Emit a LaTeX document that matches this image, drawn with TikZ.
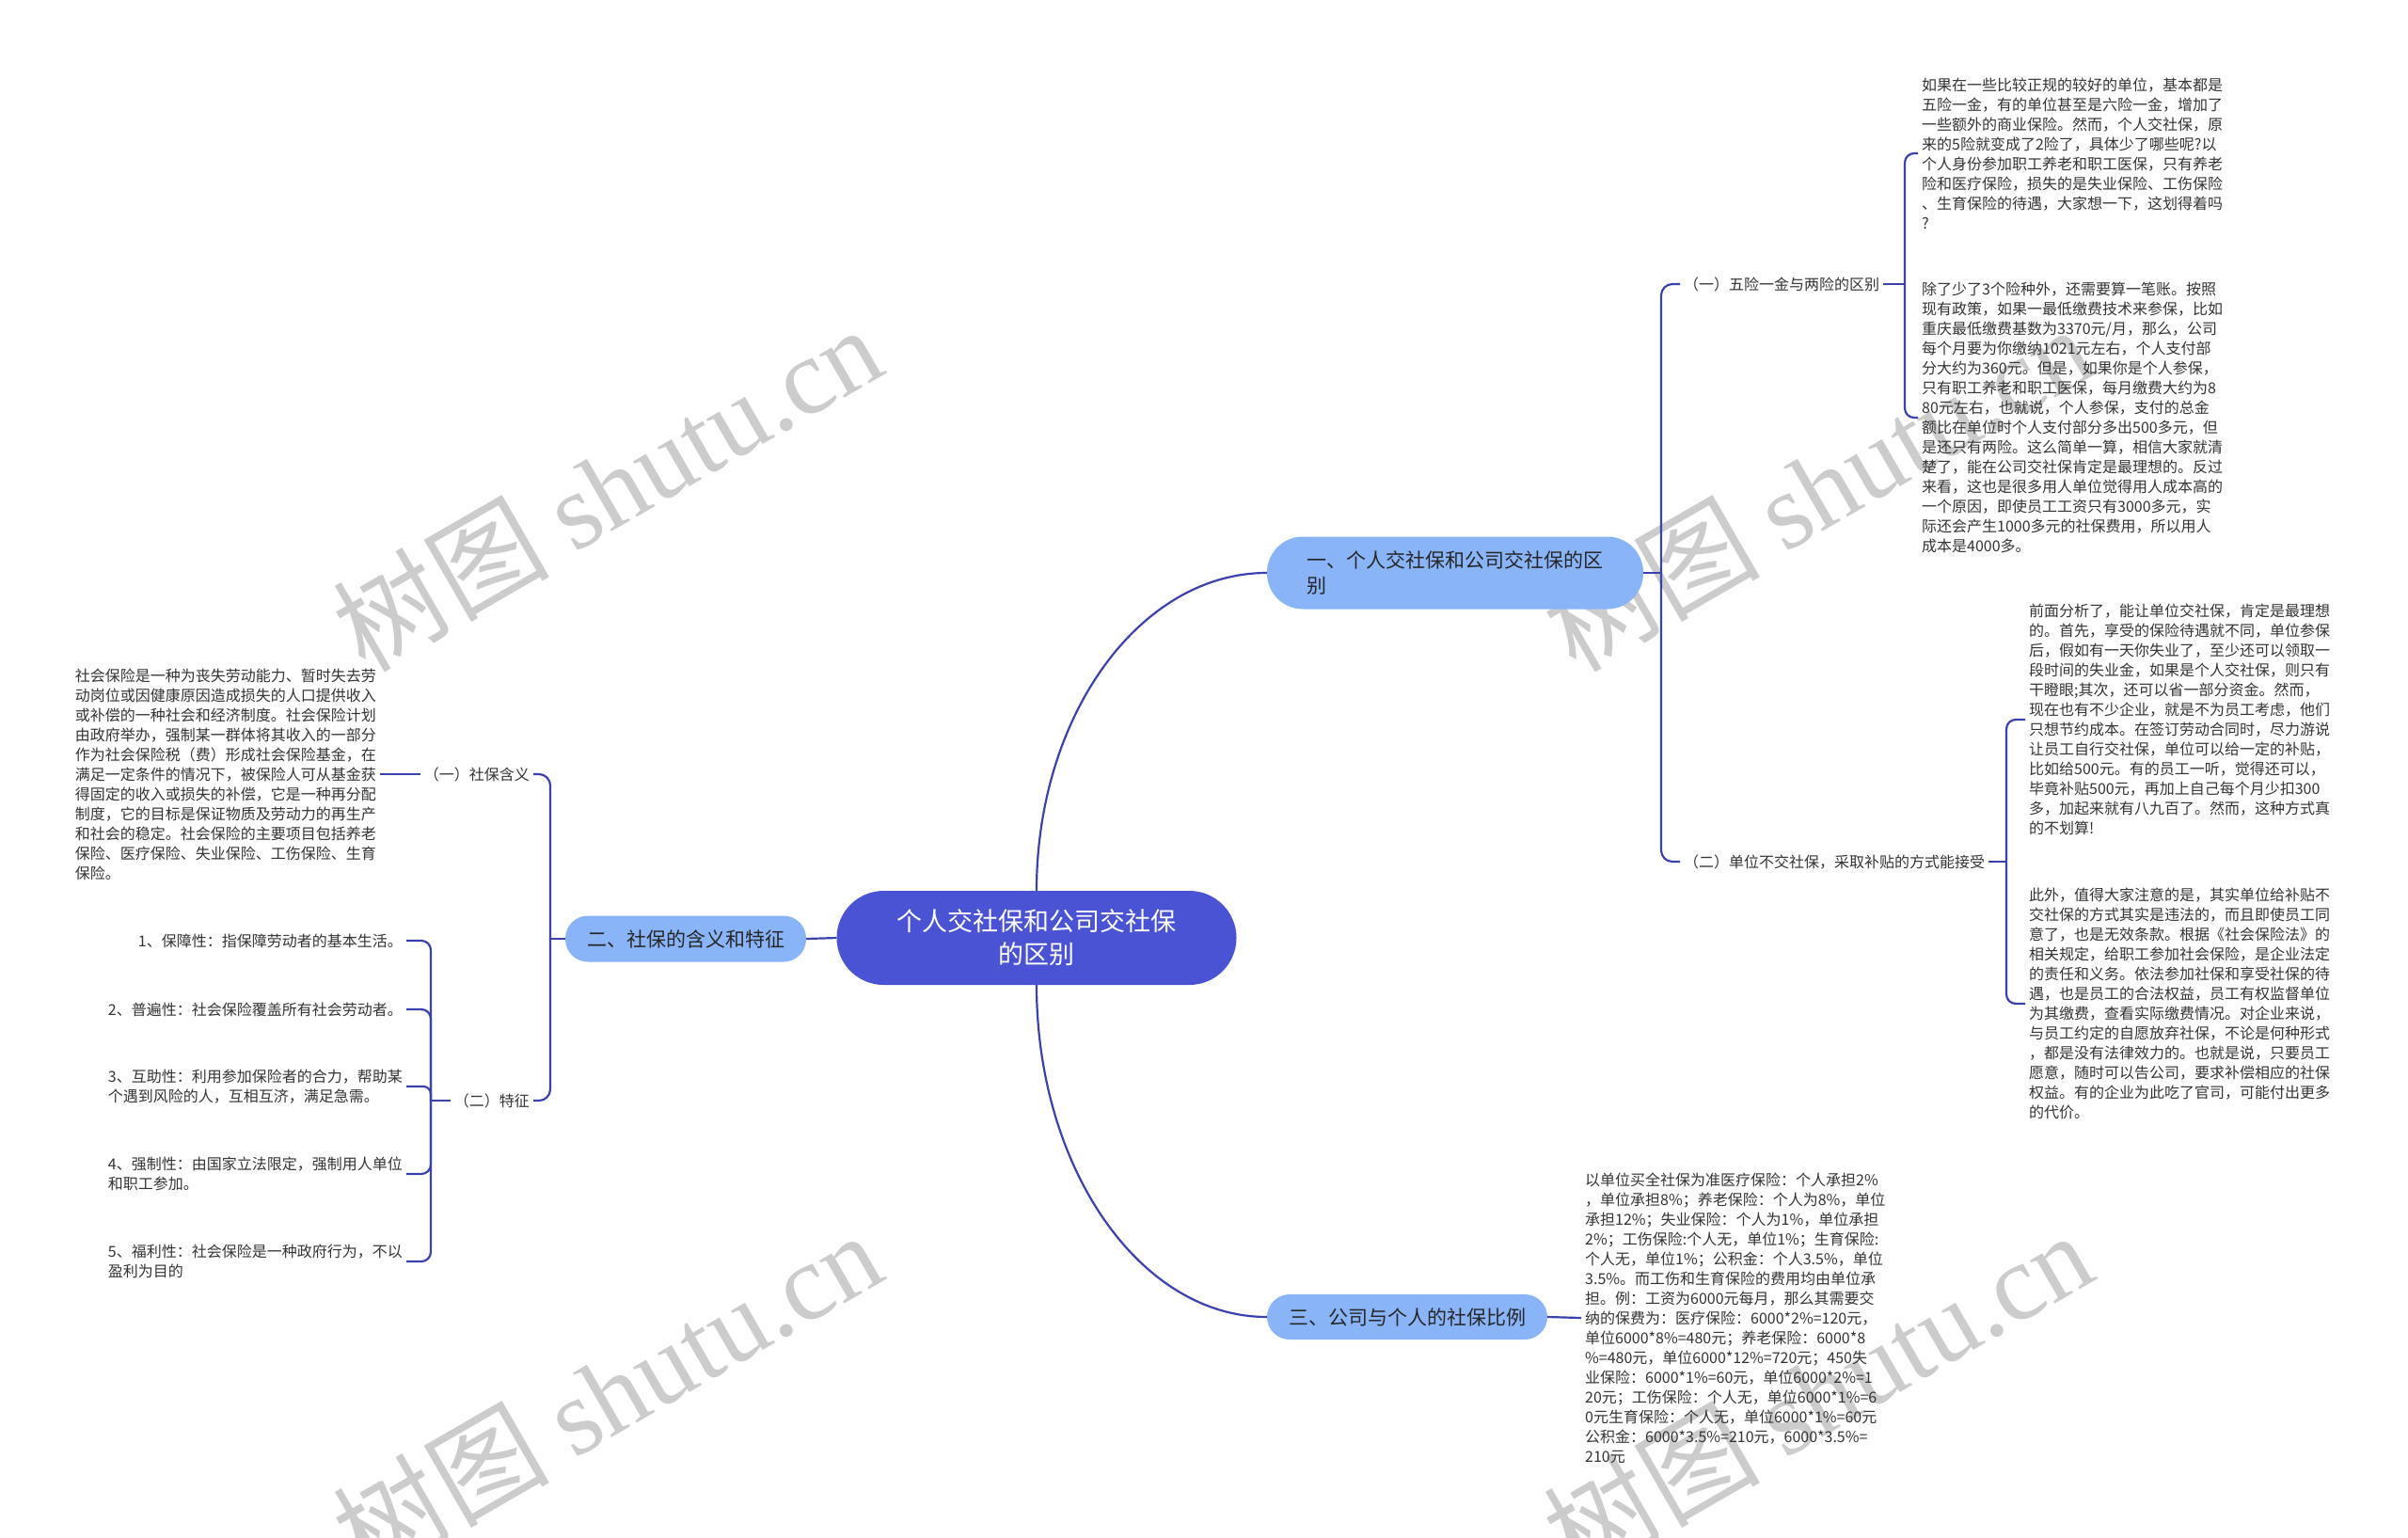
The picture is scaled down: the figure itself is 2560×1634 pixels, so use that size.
\documentclass[tikz,border=0pt]{standalone}
\usepackage{fontspec}
\setmainfont{Noto Sans CJK SC}
\newfontfamily\wmlatin{Liberation Serif}
\usepackage{tikz}

\definecolor{topicblue}{HTML}{4B53D5}
\definecolor{branchblue}{HTML}{8AB4F8}
\definecolor{linkblue}{HTML}{3A42AE}
\definecolor{textgray}{HTML}{333333}

\begin{document}
\begin{tikzpicture}[
    x=1pt, y=-1pt,
    topic/.style={rectangle, rounded corners=50pt, fill=topicblue, text=white, minimum width=425pt, minimum height=100pt, align=center, font=\fontsize{27}{35}\selectfont},
    branchbox/.style={rectangle, rounded corners=#1, fill=branchblue, text=black!85, align=left, font=\fontsize{21}{27}\selectfont},
    branchbox/.default={24pt},
    sublabel/.style={text=textgray, font=\fontsize{16}{21}\selectfont, inner sep=4pt},
    leafbox/.style={text=textgray, font=\fontsize{16}{21}\selectfont, align=left, inner sep=4pt},
    conn/.style={draw=linkblue, line width=2.2pt, #1},
    conn/.default={},
    wmark/.style={text=black!20, rotate=30, font=\fontsize{115}{115}\selectfont}
]
\useasboundingbox (0,0) rectangle (2560,1634);

% === WATERMARK ===
\node[wmark] (wm1) at (645, 518) {树图 {\wmlatin shutu.cn}};
\node[wmark] (wm2) at (645, 1481) {树图 {\wmlatin shutu.cn}};
\node[wmark] (wm3) at (1932, 518) {树图 {\wmlatin shutu.cn}};
\node[wmark] (wm4) at (1932, 1481) {树图 {\wmlatin shutu.cn}};

% === CENTRO ===
\node[topic] (root) at (1102, 997) {个人交社保和公司交社保\\的区别};

% === RAMA 1 ===
\node[branchbox=38pt, minimum width=400pt, minimum height=77pt] (b1) at (1547, 609) {一、个人交社保和公司交社保的区\\别};
\node[sublabel, anchor=west] (c11) at (1786, 302) {（一）五险一金与两险的区别};
\node[sublabel, anchor=west] (c12) at (1786, 916) {（二）单位不交社保，采取补贴的方式能接受};

\node[leafbox, anchor=west] (t1) at (2039, 163) {如果在一些比较正规的较好的单位，基本都是\\五险一金，有的单位甚至是六险一金，增加了\\一些额外的商业保险。然而，个人交社保，原\\来的5险就变成了2险了，具体少了哪些呢?以\\个人身份参加职工养老和职工医保，只有养老\\险和医疗保险，损失的是失业保险、工伤保险\\、生育保险的待遇，大家想一下，这划得着吗\\?};
\node[leafbox, anchor=west] (t2) at (2039, 444) {除了少了3个险种外，还需要算一笔账。按照\\现有政策，如果一最低缴费技术来参保，比如\\重庆最低缴费基数为3370元/月，那么，公司\\每个月要为你缴纳1021元左右，个人支付部\\分大约为360元。但是，如果你是个人参保，\\只有职工养老和职工医保，每月缴费大约为8\\80元左右，也就说，个人参保，支付的总金\\额比在单位时个人支付部分多出500多元，但\\是还只有两险。这么简单一算，相信大家就清\\楚了，能在公司交社保肯定是最理想的。反过\\来看，这也是很多用人单位觉得用人成本高的\\一个原因，即使员工工资只有3000多元，实\\际还会产生1000多元的社保费用，所以用人\\成本是4000多。};
\node[leafbox, anchor=west] (t3) at (2153, 765) {前面分析了，能让单位交社保，肯定是最理想\\的。首先，享受的保险待遇就不同，单位参保\\后，假如有一天你失业了，至少还可以领取一\\段时间的失业金，如果是个人交社保，则只有\\干瞪眼;其次，还可以省一部分资金。然而，\\现在也有不少企业，就是不为员工考虑，他们\\只想节约成本。在签订劳动合同时，尽力游说\\让员工自行交社保，单位可以给一定的补贴，\\比如给500元。有的员工一听，觉得还可以，\\毕竟补贴500元，再加上自己每个月少扣300\\多，加起来就有八九百了。然而，这种方式真\\的不划算!};
\node[leafbox, anchor=west] (t4) at (2153, 1067) {此外，值得大家注意的是，其实单位给补贴不\\交社保的方式其实是违法的，而且即使员工同\\意了，也是无效条款。根据《社会保险法》的\\相关规定，给职工参加社会保险，是企业法定\\的责任和义务。依法参加社保和享受社保的待\\遇，也是员工的合法权益，员工有权监督单位\\为其缴费，查看实际缴费情况。对企业来说，\\与员工约定的自愿放弃社保，不论是何种形式\\，都是没有法律效力的。也就是说，只要员工\\愿意，随时可以告公司，要求补偿相应的社保\\权益。有的企业为此吃了官司，可能付出更多\\的代价。};

% === RAMA 2 ===
\node[branchbox, minimum width=256pt, minimum height=49pt] (b2) at (729, 998) {二、社保的含义和特征};
\node[sublabel, anchor=east] (c21) at (567, 823) {（一）社保含义};
\node[sublabel, anchor=east] (c22) at (567, 1170) {（二）特征};

\node[leafbox, anchor=east] (t6) at (404, 823) {社会保险是一种为丧失劳动能力、暂时失去劳\\动岗位或因健康原因造成损失的人口提供收入\\或补偿的一种社会和经济制度。社会保险计划\\由政府举办，强制某一群体将其收入的一部分\\作为社会保险税（费）形成社会保险基金，在\\满足一定条件的情况下，被保险人可从基金获\\得固定的收入或损失的补偿，它是一种再分配\\制度，它的目标是保证物质及劳动力的再生产\\和社会的稳定。社会保险的主要项目包括养老\\保险、医疗保险、失业保险、工伤保险、生育\\保险。};

\node[leafbox, anchor=east] (f1) at (432, 1000) {1、保障性：指保障劳动者的基本生活。};
\node[leafbox, anchor=east] (f2) at (432, 1073) {2、普遍性：社会保险覆盖所有社会劳动者。};
\node[leafbox, anchor=east] (f3) at (432, 1155) {3、互助性：利用参加保险者的合力，帮助某\\个遇到风险的人，互相互济，满足急需。};
\node[leafbox, anchor=east] (f4) at (432, 1248) {4、强制性：由国家立法限定，强制用人单位\\和职工参加。};
\node[leafbox, anchor=east] (f5) at (432, 1341) {5、福利性：社会保险是一种政府行为，不以\\盈利为目的};

% === RAMA 3 ===
\node[branchbox, minimum width=298pt, minimum height=48pt] (b3) at (1496, 1400) {三、公司与个人的社保比例};
\node[leafbox, anchor=west] (t5) at (1681, 1401) {以单位买全社保为准医疗保险：个人承担2\%\\，单位承担8\%；养老保险：个人为8\%，单位\\承担12\%；失业保险：个人为1\%，单位承担\\2\%；工伤保险:个人无，单位1\%；生育保险:\\个人无，单位1\%；公积金：个人3.5\%，单位\\3.5\%。而工伤和生育保险的费用均由单位承\\担。例：工资为6000元每月，那么其需要交\\纳的保费为：医疗保险：6000*2\%=120元，\\单位6000*8\%=480元；养老保险：6000*8\\\%=480元，单位6000*12\%=720元；450失\\业保险：6000*1\%=60元，单位6000*2\%=1\\20元；工伤保险：个人无，单位6000*1\%=6\\0元生育保险：个人无，单位6000*1\%=60元\\公积金：6000*3.5\%=210元，6000*3.5\%=\\210元};

% === CONEXIONES ===
\draw[conn] (root.north) .. controls +(0,-186) and +(-135,0) .. (b1.west);
\draw[conn] (root.west) -- (b2.east);
\draw[conn] (root.south) .. controls +(0,194) and +(-135,0) .. (b3.west);

\draw[conn] (b1.east) -- (1766, 609);
\draw[conn={rounded corners=12pt}] (c11.west) -| (1766, 609);
\draw[conn={rounded corners=12pt}] (c12.west) -| (1766, 609);
\draw[conn] (c11.east) -- (2025, 302);
\draw[conn={rounded corners=10pt}] (t1.west) -| (2025, 302);
\draw[conn={rounded corners=10pt}] (t2.west) -| (2025, 302);
\draw[conn] (c12.east) -- (2133, 916);
\draw[conn={rounded corners=10pt}] (t3.west) -| (2133, 916);
\draw[conn={rounded corners=10pt}] (t4.west) -| (2133, 916);

\draw[conn] (b2.west) -- (585, 998);
\draw[conn={rounded corners=12pt}] (c21.east) -| (585, 998);
\draw[conn={rounded corners=12pt}] (c22.east) -| (585, 998);
\draw[conn] (t6.east) -- (c21.west);
\draw[conn] (c22.west) -- (458, 1170);
\draw[conn={rounded corners=10pt}] (f1.east) -| (458, 1170);
\draw[conn={rounded corners=10pt}] (f2.east) -| (458, 1170);
\draw[conn={rounded corners=8pt}] (f3.east) -| (458, 1170);
\draw[conn={rounded corners=10pt}] (f4.east) -| (458, 1170);
\draw[conn={rounded corners=10pt}] (f5.east) -| (458, 1170);

\draw[conn] (b3.east) -- (t5.west);

\end{tikzpicture}
\end{document}
